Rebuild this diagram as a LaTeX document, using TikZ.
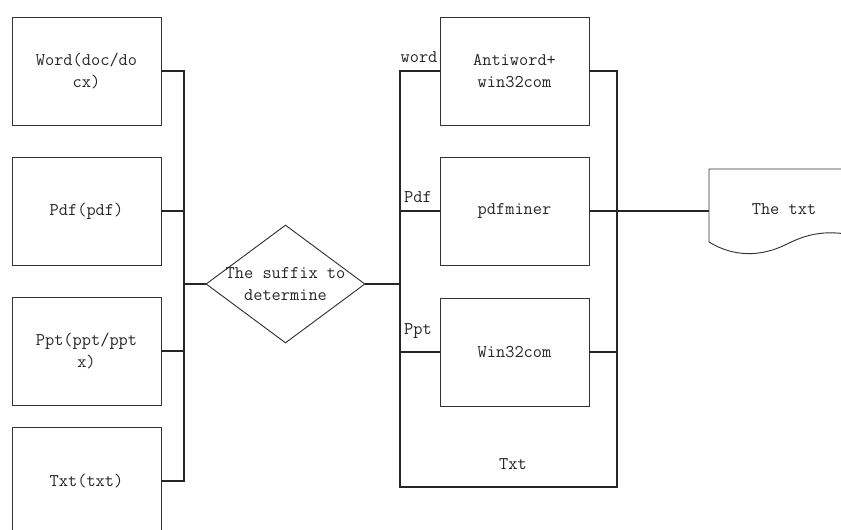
\documentclass[tikz,border=0pt]{standalone}
\usetikzlibrary{shapes.geometric}
\begin{document}
\begin{tikzpicture}[x=0.75pt,y=-0.75pt,
  every node/.style={font=\fontsize{13.4}{16.5}\selectfont\ttfamily, text=black!85},
  srcbox/.style={draw=black!80, line width=0.7pt, minimum width=111.75pt, minimum height=81pt, align=center, inner sep=0pt},
  wire/.style={draw=black!85, line width=1pt},
  lbl/.style={inner sep=1pt}]
\useasboundingbox (0,0) rectangle (841,529);
% left source boxes
\node[srcbox] (word) at (86.5,71) {Word(doc/do\\cx)};
\node[srcbox] (pdf)  at (86.5,211) {Pdf(pdf)};
\node[srcbox] (ppt)  at (86.5,351) {Ppt(ppt/ppt\\x)};
\node[srcbox] (txt)  at (86.5,481) {Txt(txt)};
% diamond
\node[draw=black!80, line width=0.7pt, shape=diamond, minimum width=119.25pt, minimum height=88.5pt, inner sep=0pt] (dec) at (285.5,284) {};
\node[align=center, inner sep=0pt] (dectext) at (285.5,284) {The suffix to\\determine};
% bus
\coordinate (busTop) at (184,71);
\coordinate (busBot) at (184,481);
\coordinate (busMid) at (184,284);
\draw[wire] (word.east) -- (busTop) -- (busBot) -- (txt.east);
\draw[wire] (pdf.east) -- (pdf.east -| busTop);
\draw[wire] (ppt.east) -- (ppt.east -| busTop);
\draw[wire] (busMid) -- (dec.west);
% right boxes
\node[srcbox] (anti) at (514.5,71) {Antiword+\\win32com};
\node[srcbox] (miner) at (514.5,211) {pdfminer};
\node[srcbox] (win) at (514.5,352) {Win32com};
% frame
\coordinate (fTL) at (400,71);
\coordinate (fBL) at (400,487);
\coordinate (fBR) at (617,487);
\coordinate (fTR) at (617,71);
\coordinate (fMid) at (400,284);
\draw[wire] (anti.west) -- (fTL) -- (fBL) -- (fBR) -- (fTR) -- (anti.east);
\draw[wire] (dec.east) -- (fMid);
\draw[wire] (miner.west -| fTL) -- (miner.west);
\draw[wire] (win.west -| fTL) -- (win.west);
\draw[wire] (win.east) -- (win.east -| fTR);
% output document
\coordinate (docL) at (709,211);
\draw[wire] (miner.east) -- (docL);
\draw[draw=black!80, line width=0.7pt] (709,242) -- (709,169) -- (870,169)
  (709,242) .. controls (735,258) and (762,256) .. (785,245)
  .. controls (805,235) and (828,226) .. (870,240);
\node (out) at (784,209) {The txt};
% labels
\node[lbl] (lw) at (419,57) {word};
\node[lbl] (lp) at (418,197) {Pdf};
\node[lbl] (lpp) at (418,331) {Ppt};
\node[lbl] (lt) at (513,464) {Txt};
\end{tikzpicture}
\end{document}
